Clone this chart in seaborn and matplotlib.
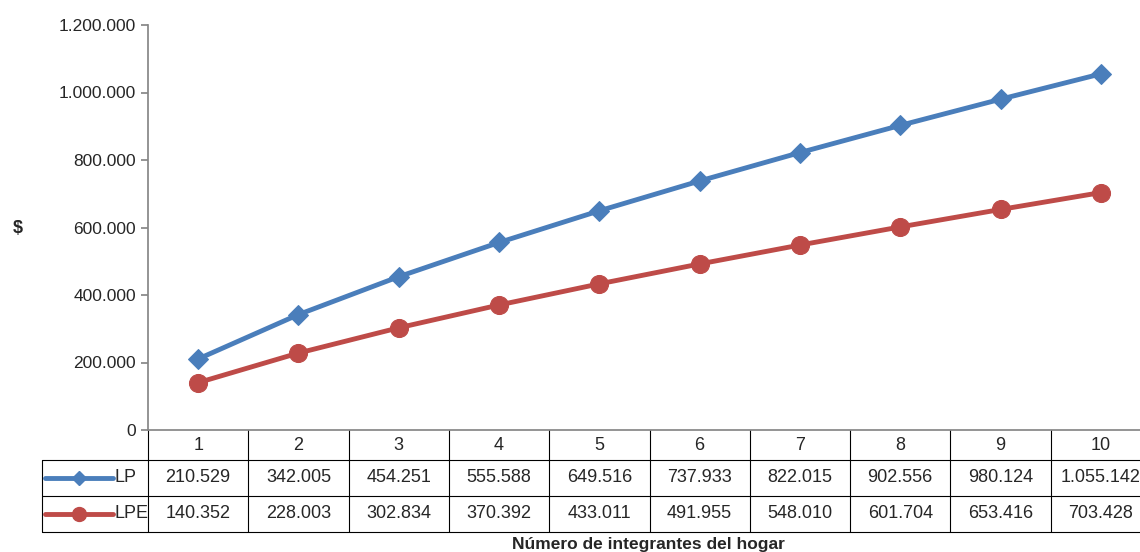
import numpy as np
import seaborn as sns
import matplotlib.pyplot as plt
from matplotlib.lines import Line2D
from matplotlib.ticker import FuncFormatter

members = [1, 2, 3, 4, 5, 6, 7, 8, 9, 10]
lp_values = [210529, 342005, 454251, 555588, 649516, 737933, 822015, 902556, 980124, 1055142]
lpe_values = [140352, 228003, 302834, 370392, 433011, 491955, 548010, 601704, 653416, 703428]
series_names = ["LP", "LPE"]
series_colors = ["#4a7ebb", "#be4b48"]
series_markers = ["D", "o"]


def dotted(value: float) -> str:
    """Format with dot thousands separator."""
    return f"{int(round(value)):,}".replace(",", ".")


sns.set_theme(style = "white")
plt.rcParams["font.family"] = ["Liberation Sans", "DejaVu Sans"]

W, H = 1140, 552
fig = plt.figure(figsize = (W / 100, H / 100), dpi = 100)
left, right_px, top, bottom = 148, 1151, 25, 430
ax = fig.add_axes([left / W, 1 - bottom / H, (right_px - left) / W, (bottom - top) / H])
x_pos = np.arange(len(members)) + 0.5

for values, name, color, marker in zip([lp_values, lpe_values], series_names, series_colors, series_markers):
    sns.lineplot(x = x_pos, y = values, ax = ax, color = color, linewidth = 3.5,
                 marker = marker, markersize = 10 if marker == "D" else 13,
                 markeredgecolor = color, legend = False, clip_on = False)

ax.set_xlim(0, len(members))
ax.set_ylim(0, 1200000)
ax.set_yticks(np.arange(0, 1200001, 200000))
ax.yaxis.set_major_formatter(FuncFormatter(lambda v, _: dotted(v)))
ax.tick_params(axis = "y", labelsize = 12.5, length = 5, left = True, direction = "out", color = "#868686")
ax.set_xticks([])
for side in ["top", "right"]:
    ax.spines[side].set_visible(False)
for side in ["left", "bottom"]:
    ax.spines[side].set_color("#868686")
fig.text(18 / W, 1 - 228 / H, "$", fontsize = 13, fontweight = "bold", ha = "center", va = "center")

# data table below the axes, in axes-fraction coordinates
px_h = bottom - top
row_h = 36 / px_h
header_h = 30 / px_h
legend_left = (42 - left) / (right_px - left)
grid_kw = dict(color = "#000000", linewidth = 0.8, clip_on = False, transform = ax.transAxes)
n = len(members)
y_header_bottom = -header_h
y_rows = [y_header_bottom - row_h * (i + 1) for i in range(2)]

ax.add_line(Line2D([legend_left, 1], [y_header_bottom] * 2, **grid_kw))
for yb in y_rows:
    ax.add_line(Line2D([legend_left, 1], [yb] * 2, **grid_kw))
for i in range(n + 1):
    ax.add_line(Line2D([i / n] * 2, [0, y_rows[-1]], **grid_kw))
ax.add_line(Line2D([legend_left] * 2, [y_header_bottom, y_rows[-1]], **grid_kw))

for i, m in enumerate(members):
    ax.text((i + 0.5) / n, -header_h / 2, str(m), transform = ax.transAxes, ha = "center", va = "center", fontsize = 13)

row_values = [lp_values, lpe_values]
for r, (values, name, color, marker) in enumerate(zip(row_values, series_names, series_colors, series_markers)):
    yc = y_header_bottom - row_h * (r + 0.5)
    for i, v in enumerate(values):
        ax.text((i + 0.5) / n, yc, dotted(v), transform = ax.transAxes, ha = "center", va = "center", fontsize = 13)
    x0 = legend_left + 0.003
    x1 = -0.035
    ax.add_line(Line2D([x0, x1], [yc, yc], color = color, linewidth = 3.5, clip_on = False, transform = ax.transAxes))
    ax.add_line(Line2D([(x0 + x1) / 2], [yc], color = color, marker = marker,
                       markersize = 7 if marker == "D" else 10, clip_on = False, transform = ax.transAxes))
    ax.text(x1 + 0.002, yc, name, transform = ax.transAxes, ha = "left", va = "center", fontsize = 13)

fig.text(648 / W, 1 - 544 / H, "Número de integrantes del hogar", ha = "center", va = "center",
         fontsize = 12.5, fontweight = "bold")

fig.savefig("out.png", dpi = 100)
